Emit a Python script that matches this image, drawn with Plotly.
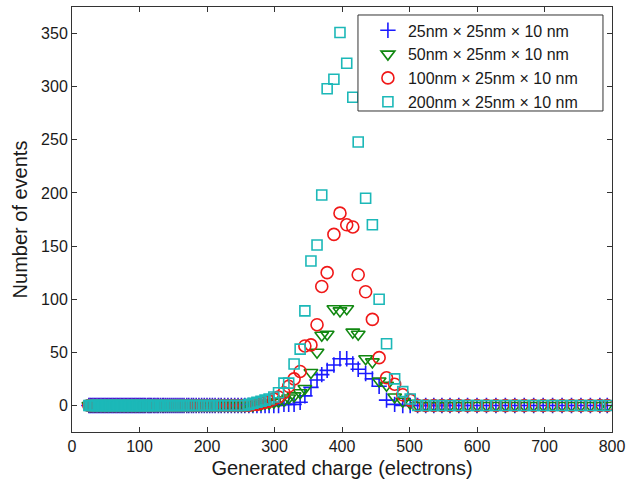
import plotly.graph_objects as go

# Charge bins (electrons): flat low-charge band, peak region, flat high-charge tail
band_x = [25, 27, 29, 31, 33, 35, 37, 39, 41, 43, 45, 47, 49, 51, 53, 55, 57, 59,
          61, 63, 65, 67, 69, 71, 73, 75, 77, 79, 81, 83, 85, 87, 89, 91, 93, 95,
          97, 99, 101, 103, 105, 107, 109, 112, 114, 116, 118, 121, 123, 126, 128,
          131, 134, 136, 139, 142, 145, 148, 151, 154, 157, 160, 163, 166, 170, 173,
          177, 180, 184, 188, 192, 196, 200, 204, 208, 212, 217, 221, 226, 231, 236,
          241, 246, 251, 256]
peak_x = [262, 268, 274, 280, 286, 292, 299, 306, 314, 321, 329, 338, 345, 354,
          363, 370, 378, 388, 397, 407, 416, 424, 435, 445, 455, 466, 478, 490, 501]
tail_x = [512, 524, 536, 548, 560, 573, 586, 600, 614, 628, 642, 656, 670, 684,
          698, 712, 726, 740, 754, 768, 782, 793]

# Number of events in the peak region for each volume
counts_25 = [0, 0, 0, 0, 0, 0, 0, 0, 1, 1, 1, 3, 9, 17,
             24, 29, 33, 38, 44, 44, 39, 34, 30, 25, 18, 5, 1, 0, 0]
counts_50 = [0, 0, 1, 1, 2, 2, 3, 4, 5, 7, 9, 12, 16, 31,
             50, 66, 67, 91, 89, 91, 69, 67, 44, 41, 23, 19, 8, 4, 2]
counts_100 = [0, 1, 1, 2, 3, 4, 6, 8, 12, 18, 25, 32, 56, 57,
              76, 112, 125, 161, 181, 170, 168, 123, 107, 81, 45, 26, 20, 10, 5]
counts_200 = [1, 2, 3, 4, 5, 6, 8, 12, 21, 21, 39, 53, 89, 136,
              151, 198, 298, 307, 351, 322, 290, 248, 195, 170, 100, 58, 25, 13, 6]

band_zero = [0] * len(band_x)
tail_zero = [0] * len(tail_x)

labels = ["25nm \u00d7 25nm \u00d7 10 nm",
          "50nm \u00d7 25nm \u00d7 10 nm",
          "100nm \u00d7 25nm \u00d7 10 nm",
          "200nm \u00d7 25nm \u00d7 10 nm"]

x_ticks = [0, 100, 200, 300, 400, 500, 600, 700, 800]
y_ticks = [0, 50, 100, 150, 200, 250, 300, 350]

series = [
    (labels[0], counts_25, "cross-thin-open", 11, "#1a1aff"),
    (labels[1], counts_50, "triangle-down-open", 12, "#118811"),
    (labels[2], counts_100, "circle-open", 12, "#f01818"),
    (labels[3], counts_200, "square-open", 10, "#1cb8b8"),
]

fig = go.Figure()
for i, (name, counts, symbol, size, color) in enumerate(series):
    fig.add_trace(go.Scatter(
        x=band_x + peak_x + tail_x,
        y=band_zero + counts + tail_zero,
        mode="markers",
        name=name,
        marker=dict(symbol=symbol, size=size, color=color,
                    line=dict(color=color, width=1.6)),
    ))

axis_common = dict(
    showline=True, linecolor="#333333", linewidth=1, mirror="allticks",
    ticks="inside", ticklen=5, tickcolor="#333333",
    showgrid=False, zeroline=False,
    tickfont=dict(family="Liberation Sans, Arial, sans-serif", size=16, color="#1a1a1a"),
)

fig.update_layout(
    width=637, height=483,
    margin=dict(l=72, r=25, t=7, b=51),
    paper_bgcolor="white", plot_bgcolor="white",
    font=dict(family="Liberation Sans, Arial, sans-serif", color="#1a1a1a"),
    xaxis=dict(range=[0, 800], tickvals=x_ticks,
               title=dict(text="Generated charge (electrons)",
                          font=dict(size=20), standoff=6),
               **axis_common),
    yaxis=dict(range=[-25, 375], tickvals=y_ticks,
               title=dict(text="Number of events",
                          font=dict(size=20), standoff=8),
               **axis_common),
    legend=dict(x=0.548, y=0.985, xanchor="left", yanchor="top",
                borderwidth=0, bgcolor="rgba(0,0,0,0)",
                font=dict(size=16), tracegroupgap=0),
    showlegend=True,
    # legend frame
    shapes=[dict(type="rect", xref="paper", yref="paper",
                 x0=0.5296, x1=0.9833, y0=0.7553, y1=0.9812,
                 line=dict(color="#333333", width=1), fillcolor="white",
                 layer="above")],
)

fig.write_html("out.html")
